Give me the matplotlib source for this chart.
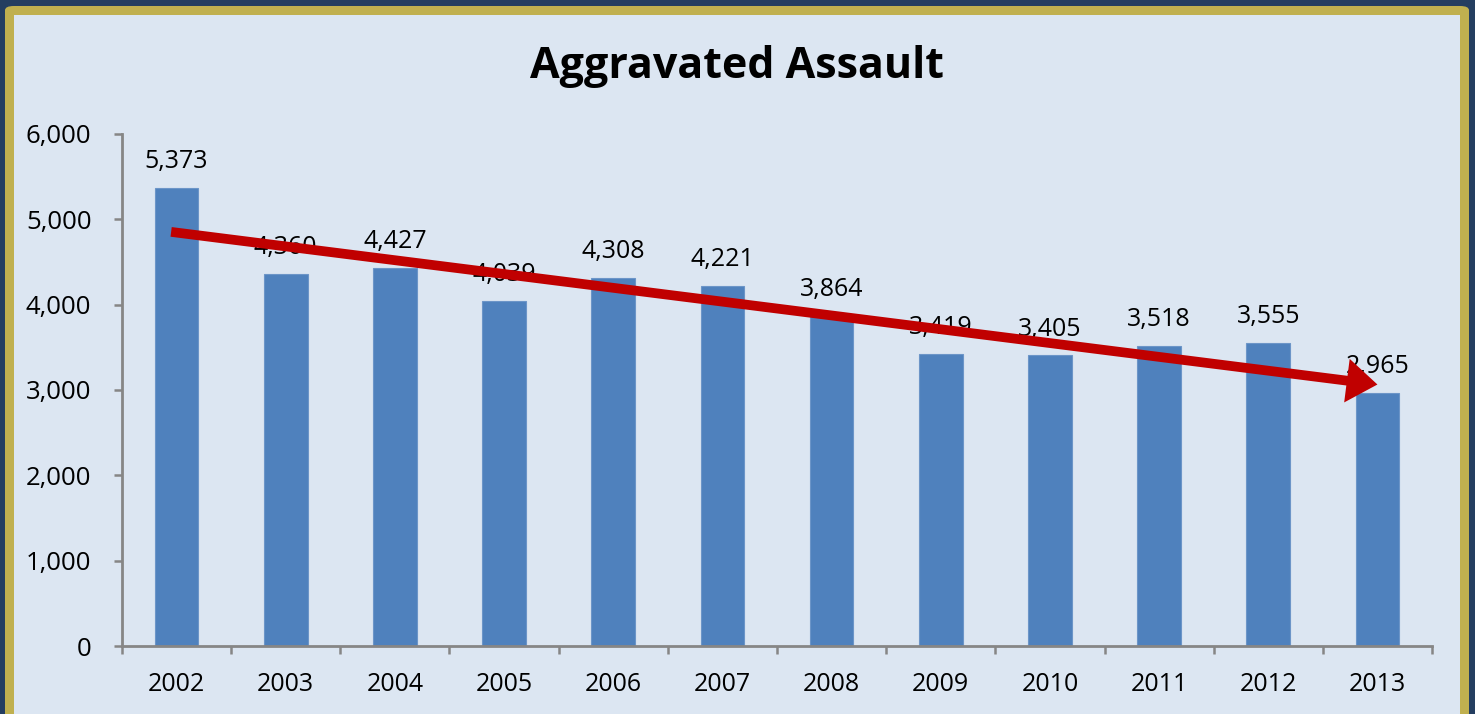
import numpy as np
import matplotlib
matplotlib.use("Agg")
import matplotlib.pyplot as plt
from matplotlib.patches import FancyBboxPatch, Rectangle

years = ["2002", "2003", "2004", "2005", "2006", "2007", "2008", "2009", "2010", "2011", "2012", "2013"]
values = [5373, 4360, 4427, 4039, 4308, 4221, 3864, 3419, 3405, 3518, 3555, 2965]
title = "Aggravated Assault"
yticks = [0, 1000, 2000, 3000, 4000, 5000, 6000]

plt.rcParams['font.family'] = ['Open Sans', 'DejaVu Sans']

W, H = 1475, 714
fig = plt.figure(figsize=(W / 100, H / 100), dpi=100)
fig.patch.set_facecolor('#243E60')

# gold frame and inner panel
fig.patches.append(FancyBboxPatch((5 / W, -0.05), (1469 - 5) / W, (H - 6) / H + 0.05,
                                  boxstyle="round,pad=0,rounding_size=0.006",
                                  transform=fig.transFigure, facecolor='#C0B04F',
                                  edgecolor='none', zorder=-3))
fig.patches.append(Rectangle((14 / W, -0.05), (1460 - 14) / W, (H - 15) / H + 0.05,
                             transform=fig.transFigure, facecolor='#DCE6F2',
                             edgecolor='none', zorder=-2))

ax = fig.add_axes([122 / W, 1 - 646 / H, (1432 - 122) / W, (646 - 134) / H])
ax.set_zorder(2)
ax.set_facecolor('none')
x = np.arange(len(years))
ax.bar(x, values, width=0.4, color='#4F81BD', edgecolor='#6C95C8', linewidth=0.8, zorder=2)
ax.set_xlim(-0.5, len(years) - 0.5)
ax.set_ylim(0, 6000)
ax.set_yticks(yticks)
ax.set_yticklabels([f"{v:,}" for v in yticks], fontsize=18.5)
ax.set_xticks(x)
ax.set_xticklabels(years, fontsize=18)
ax.set_xticks(np.arange(len(years) + 1) - 0.5, minor=True)
ax.tick_params(axis='x', which='major', length=0, pad=19)
ax.tick_params(axis='x', which='minor', length=6, width=1.8, color='#868686', direction='out')
ax.tick_params(axis='y', length=6, width=1.8, color='#868686', pad=16)
for s in ['top', 'right']:
    ax.spines[s].set_visible(False)
for s in ['left', 'bottom']:
    ax.spines[s].set_color('#868686')
    ax.spines[s].set_linewidth(2)

for xi, v in zip(x, values):
    ax.annotate(f"{v:,}", (xi, v), xytext=(0, 10), textcoords='offset points',
                ha='center', va='bottom', fontsize=18, color='black', zorder=3)

# trend arrow (linear fit of the data)
slope, intercept = np.polyfit(x, values, 1)
x0, x1 = -0.05, len(years) - 1
ax.annotate('', xy=(x1, slope * x1 + intercept), xytext=(x0, slope * x0 + intercept),
            arrowprops=dict(arrowstyle='-|>,head_length=0.42,head_width=0.3',
                            mutation_scale=30, lw=7, color='#C00000',
                            shrinkA=0, shrinkB=0, joinstyle='miter', capstyle='butt'),
            zorder=5)

fig.text(737 / W, 1 - 66 / H, title, ha='center', va='center', fontsize=31,
         fontweight='bold', color='black')

fig.savefig('out.png', dpi=100, facecolor=fig.get_facecolor())
